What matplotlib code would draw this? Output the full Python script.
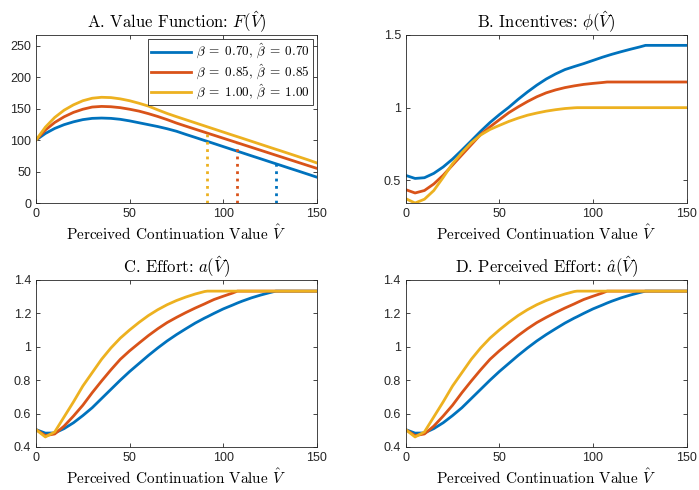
import matplotlib
matplotlib.use('Agg')
import matplotlib.pyplot as plt

plt.rcParams.update({
    'font.family': 'sans-serif',
    'font.sans-serif': ['Liberation Sans', 'DejaVu Sans'],
    'font.size': 9,
    'mathtext.fontset': 'cm',
    'axes.linewidth': 0.6,
    'axes.edgecolor': '#262626',
    'xtick.direction': 'in',
    'ytick.direction': 'in',
    'xtick.top': True,
    'ytick.right': True,
    'xtick.major.size': 3,
    'ytick.major.size': 3,
    'xtick.major.width': 0.6,
    'ytick.major.width': 0.6,
    'xtick.color': '#262626',
    'ytick.color': '#262626',
})

# perceived continuation value grid (kinks at 91.5, 107.5, 128)
v = [0, 5, 10, 15, 20, 25, 30, 35, 40, 45, 50, 55, 60, 65, 70, 75, 80, 85, 90,
     91.5, 95, 100, 105, 107.5, 110, 115, 120, 125, 128, 130, 135, 140, 145, 150]

labels = [r'$\beta\;=\;0.70,\,\hat{\beta}\;=\;0.70$',
          r'$\beta\;=\;0.85,\,\hat{\beta}\;=\;0.85$',
          r'$\beta\;=\;1.00,\,\hat{\beta}\;=\;1.00$']
colors = ['#0072BD', '#D95319', '#EDB120']

# A. value function
F_070 = [100, 110.5, 118.5, 124.5, 129, 132.5, 134.5, 135, 134.5, 133, 130.5, 127.5, 124.5,
         121.5, 118, 114, 109, 104.2, 99.3, 97.9, 94.5, 89.6, 84.7, 82.3, 79.9, 75, 70.2,
         65.3, 62.4, 60.5, 55.6, 50.8, 45.9, 41]
F_085 = [100, 116, 128, 137, 144, 149, 152.5, 153.5, 153, 151.5, 149, 146, 142, 137.5, 132.5,
         127, 122.1, 117.3, 112.5, 111, 107.7, 102.9, 98.1, 95.7, 93.3, 88.5, 83.7, 78.9,
         76, 74.1, 69.3, 64.5, 59.7, 55]
F_100 = [100, 120.5, 136, 147.5, 156, 162.5, 166.5, 168, 167.5, 165.5, 162.5, 158.5, 154,
         148, 142.3, 137.2, 132.3, 127.4, 122.5, 121, 117.6, 112.7, 107.8, 105.4, 103, 98.1,
         93.2, 88.3, 85.4, 83.5, 78.6, 73.7, 68.8, 63.6]
v_cut = [128, 107.5, 91.5]
F_cut = [62.4, 94.5, 111]

# B. incentives
phi_070 = [0.534, 0.513, 0.518, 0.548, 0.592, 0.646, 0.708, 0.772, 0.837, 0.898, 0.952, 1.002,
           1.057, 1.108, 1.155, 1.197, 1.232, 1.262, 1.283, 1.289, 1.303, 1.325, 1.347, 1.357,
           1.367, 1.385, 1.402, 1.418, 1.4286, 1.4286, 1.4286, 1.4286, 1.4286, 1.4286]
phi_085 = [0.436, 0.413, 0.43, 0.475, 0.535, 0.605, 0.675, 0.745, 0.815, 0.868, 0.917, 0.965,
           1.005, 1.042, 1.075, 1.102, 1.122, 1.138, 1.15, 1.153, 1.16, 1.167, 1.173, 1.1765,
           1.1765, 1.1765, 1.1765, 1.1765, 1.1765, 1.1765, 1.1765, 1.1765, 1.1765, 1.1765]
phi_100 = [0.374, 0.344, 0.37, 0.43, 0.52, 0.615, 0.69, 0.758, 0.812, 0.85, 0.878, 0.905, 0.928,
           0.948, 0.963, 0.976, 0.986, 0.994, 0.999, 1.0, 1.0, 1.0, 1.0, 1.0, 1.0, 1.0, 1.0,
           1.0, 1.0, 1.0, 1.0, 1.0, 1.0, 1.0]

# C. effort
a_070 = [0.504, 0.483, 0.484, 0.51, 0.545, 0.588, 0.635, 0.69, 0.745, 0.8, 0.852, 0.9, 0.948,
         0.993, 1.035, 1.073, 1.108, 1.142, 1.172, 1.18, 1.2, 1.227, 1.25, 1.262, 1.273, 1.293,
         1.31, 1.325, 1.3333, 1.3333, 1.3333, 1.3333, 1.3333, 1.3333]
a_085 = [0.504, 0.468, 0.478, 0.525, 0.585, 0.65, 0.725, 0.795, 0.862, 0.925, 0.976, 1.022,
         1.067, 1.108, 1.145, 1.176, 1.205, 1.232, 1.257, 1.265, 1.283, 1.303, 1.322, 1.3333,
         1.3333, 1.3333, 1.3333, 1.3333, 1.3333, 1.3333, 1.3333, 1.3333, 1.3333, 1.3333]
a_100 = [0.504, 0.46, 0.49, 0.58, 0.67, 0.765, 0.845, 0.925, 0.993, 1.052, 1.101, 1.146, 1.187,
         1.222, 1.252, 1.277, 1.298, 1.316, 1.331, 1.3333, 1.3333, 1.3333, 1.3333, 1.3333,
         1.3333, 1.3333, 1.3333, 1.3333, 1.3333, 1.3333, 1.3333, 1.3333, 1.3333, 1.3333]

# D. perceived effort (identical when beta_hat = beta)
ahat_070 = list(a_070)
ahat_085 = list(a_085)
ahat_100 = list(a_100)

xlabel = r'Perceived Continuation Value $\hat{V}$'
txt = dict(family='cmr10')

fig = plt.figure(figsize=(6.99, 4.90), dpi=100)
axA = fig.add_axes([0.0515, 0.5857, 0.402, 0.3429])
axB = fig.add_axes([0.5804, 0.5857, 0.402, 0.3429])
axC = fig.add_axes([0.0515, 0.0878, 0.402, 0.3408])
axD = fig.add_axes([0.5804, 0.0878, 0.402, 0.3408])

def style(ax, title):
    ax.set_xlim(0, 150)
    ax.set_xticks([0, 50, 100, 150])
    ax.set_title(title, fontsize=12, pad=5, **txt)
    ax.set_xlabel(xlabel, fontsize=11, labelpad=3, **txt)

# A
for y, c, lab in zip([F_070, F_085, F_100], colors, labels):
    axA.plot(v, y, color=c, lw=2, label=lab)
for xc, yc, c in zip(v_cut, F_cut, colors):
    axA.plot([xc, xc], [0, yc], color=c, lw=2, ls=':')
axA.set_ylim(0, 267)
axA.set_yticks([0, 50, 100, 150, 200, 250])
style(axA, r'A. Value Function: $F(\hat{V})$')
leg = axA.legend(loc='upper right', fontsize=9.5, fancybox=False, framealpha=1,
                 edgecolor='#262626', handlelength=3.0, handletextpad=0.4,
                 borderaxespad=0.3, labelspacing=0.08, borderpad=0.25)
leg.get_frame().set_linewidth(0.6)

# B
for y, c in zip([phi_070, phi_085, phi_100], colors):
    axB.plot(v, y, color=c, lw=2)
axB.set_ylim(0.344, 1.5)
axB.set_yticks([0.5, 1, 1.5])
axB.set_yticklabels(['0.5', '1', '1.5'])
style(axB, r'B. Incentives: $\phi(\hat{V})$')

# C and D
ctick = [0.4, 0.6, 0.8, 1.0, 1.2, 1.4]
clab = ['0.4', '0.6', '0.8', '1', '1.2', '1.4']
for ax, series, title in [(axC, [a_070, a_085, a_100], r'C. Effort: $a(\hat{V})$'),
                          (axD, [ahat_070, ahat_085, ahat_100],
                           r'D. Perceived Effort: $\hat{a}(\hat{V})$')]:
    for y, c in zip(series, colors):
        ax.plot(v, y, color=c, lw=2)
    ax.set_ylim(0.4, 1.4)
    ax.set_yticks(ctick)
    ax.set_yticklabels(clab)
    style(ax, title)

plt.savefig('out.png', dpi=100)
